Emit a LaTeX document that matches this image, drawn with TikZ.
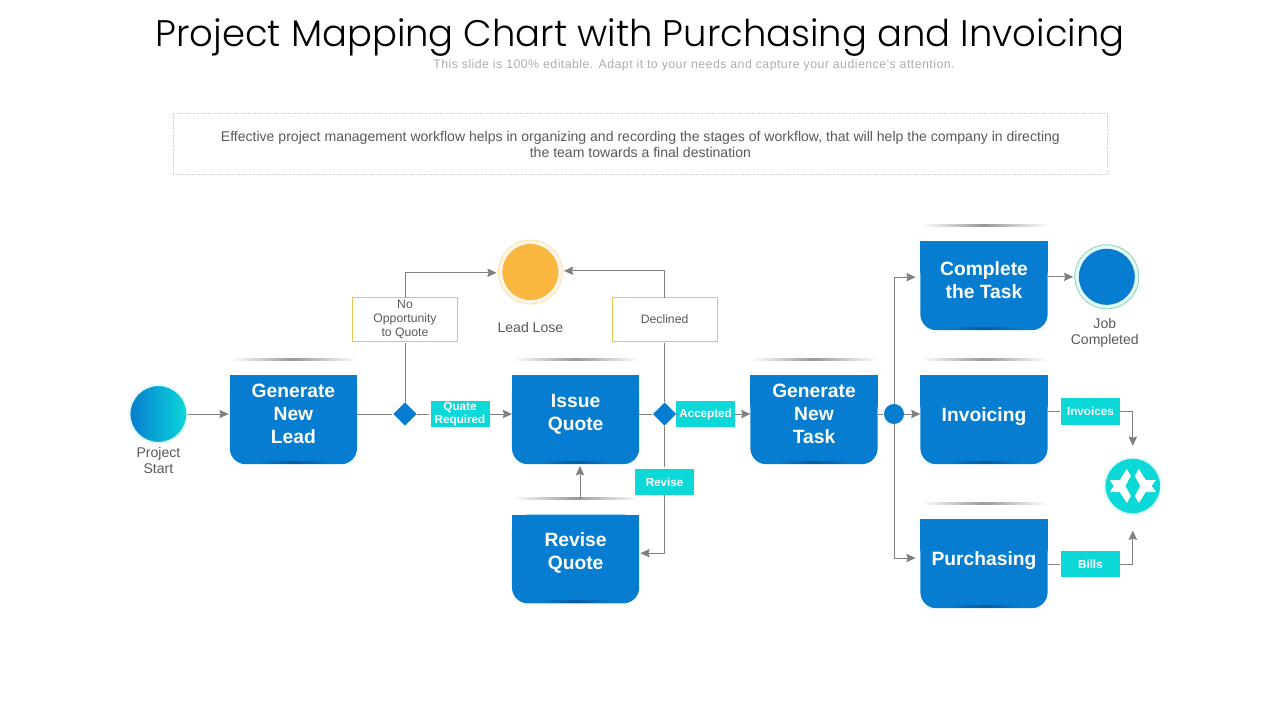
\documentclass[tikz,border=0pt]{standalone}
\usepackage{fontspec}
\setmainfont{Liberation Sans}
\newfontfamily\titlefont{Poppins Light}
\usetikzlibrary{arrows.meta,shapes.geometric,backgrounds}

\definecolor{taskblue}{HTML}{067DD0}
\definecolor{darkblue}{HTML}{0A5A9C}
\definecolor{tagcyan}{HTML}{0CD8D8}
\definecolor{lineyellow}{HTML}{E9C455}
\definecolor{sunorange}{HTML}{F9B73F}
\definecolor{linegray}{HTML}{808080}
\definecolor{textgray}{HTML}{595959}
\definecolor{ringgreen}{HTML}{8FD4B0}

\tikzset{
  taskbox/.style={rectangle, minimum width=3.16cm, minimum height=1.91cm, inner sep=0pt, align=center,
    text=white, font=\fontsize{13.7}{16.3}\selectfont\bfseries},
  tagbox/.style={rectangle, fill=tagcyan, minimum width=1.475cm, minimum height=.66cm, inner sep=0pt, outer sep=0pt, align=center,
    text=white, font=\fontsize{8.3}{9.3}\selectfont\bfseries},
  notebox/.style={rectangle, draw=lineyellow, line width=.7pt, minimum width=2.63cm, minimum height=1.1cm, inner sep=0pt,
    outer sep=0pt, align=center, text=textgray, font=\fontsize{8.7}{10}\selectfont},
  gate/.style={diamond, fill=taskblue, minimum size=.58cm, inner sep=0pt, outer sep=0pt},
  ringnode/.style={circle, minimum size=1.6cm, inner sep=0pt},
  dotnode/.style={circle, minimum size=1.4cm, inner sep=0pt},
  caption/.style={align=center, text=textgray, font=\fontsize{10}{11.4}\selectfont, inner sep=0pt}
}

\begin{document}
\begin{tikzpicture}[->, >={Stealth[length=.23cm,width=.21cm,inset=.3mm]}, shorten >=1pt, line width=.6pt, draw=linegray, node distance=3cm]

  \useasboundingbox (0,0) rectangle (32,-18);

  \node (title) at (16,-.95) {\titlefont\fontsize{26.3}{30}\selectfont Project Mapping Chart with Purchasing and Invoicing};
  \node[text=black!32, font=\fontsize{8.8}{10}\selectfont, inner sep=0pt] (subtitle) at (17.35,-1.62)
    {\addfontfeature{LetterSpace=3.6}This slide is 100\% editable. Adapt it to your needs and capture your audience's attention.};
  \node[rectangle, draw=black!22, densely dotted, line width=.5pt, minimum width=23.35cm, minimum height=1.53cm, align=center,
    text=textgray, font=\fontsize{10}{11.4}\selectfont, inner sep=0pt] (intro) at (16.01,-3.6)
    {Effective project management workflow helps in organizing and recording the stages of workflow, that will help the company in directing\\the team towards a final destination};

  \node[circle, shade, left color=taskblue, right color=tagcyan, draw=tagcyan!12, line width=1.5pt, minimum size=1.45cm, inner sep=0pt] (start) at (3.96,-10.35) {};
  \node[taskbox]  (lead)  [right of=start, node distance=3.375cm] {Generate\\New\\Lead};
  \node[gate]     (gatea) [right of=lead, node distance=2.79cm] {};
  \node[tagbox]   (required) [right of=gatea, node distance=1.375cm] {Quate\\Required};
  \node[taskbox]  (issue) [right of=required, node distance=2.89cm] {Issue\\Quote};
  \node[gate]     (gateb) [right of=issue, node distance=2.225cm] {};
  \node[tagbox]   (accepted) [right of=gateb, node distance=1.025cm] {Accepted};
  \node[taskbox]  (task)  [right of=accepted, node distance=2.71cm] {Generate\\New\\Task};
  \node[circle, fill=taskblue, minimum size=.5cm, inner sep=0pt, outer sep=0pt] (split) [right of=task, node distance=2cm] {};
  \node[taskbox]  (invoicing) [right of=split, node distance=2.25cm] {\raisebox{0pt}[12.6pt][2.6pt]{Invoicing}};
  \node[taskbox]  (complete)  [above of=invoicing, node distance=3.35cm] {Complete\\the Task};
  \node[taskbox]  (purchasing) [below of=invoicing, node distance=3.6cm] {\raisebox{0pt}[12.6pt][2.6pt]{Purchasing}};
  \node[taskbox]  (revise) [below of=issue, node distance=3.48cm] {Revise\\Quote};
  \node[tagbox]   (revisetag) [below of=gateb, node distance=1.7cm] {Revise};
  \node[notebox]  (declined) [above of=gateb, node distance=2.36cm] {Declined};
  \node[notebox]  (noquote)  [above of=gatea, node distance=2.36cm] {No\\Opportunity\\to Quote};
  \node[tagbox]   (invoices) at (27.26,-10.29) {Invoices};
  \node[tagbox]   (bills)    at (27.26,-14.1) {Bills};

  \node[ringnode, draw=sunorange!45, fill=sunorange!12, line width=.6pt] (lose) at (13.26,-6.8) {};
  \node[dotnode, fill=sunorange] (losedot) at (lose) {};
  \node[ringnode, draw=ringgreen, fill=tagcyan!12, line width=.6pt] (done) at (27.67,-6.92) {};
  \node[dotnode, fill=taskblue] (donedot) at (done) {};
  \node[circle, fill=tagcyan, draw=tagcyan!12, line width=1.5pt, minimum size=1.42cm, inner sep=0pt] (hub) at (28.32,-12.15) {};

  \node[caption] (startcap) [below of=start, node distance=1.15cm] {Project\\Start};
  \node[caption] (losecap)  [below of=lose, node distance=1.38cm] {Lead Lose};
  \node[caption] (donecap)  [below of=done, node distance=1.4cm, xshift=-.05cm] {Job\\Completed};

  \foreach \s in {1,-1}
    \fill[white, shift={(hub.center)}, xscale=\s*.025, yscale=.025]
      (-6,17) -- (-13,6) -- (-23,6) -- (-19,0) -- (-23,-6) -- (-13,-6) -- (-6,-17) -- (-2,-10) -- (-7.5,0) -- (-2,10) -- cycle;

  \begin{scope}[on background layer]
    \foreach \boxname in {lead,issue,revise,task,complete,invoicing,purchasing} {
      \fill[taskblue, rounded corners=.4cm] (\boxname.north west) rectangle ([yshift=-.29cm]\boxname.south east);
      \fill[taskblue] (\boxname.north west) rectangle ([yshift=-.8cm]\boxname.north east);
      \shade[left color=taskblue, right color=taskblue, middle color=darkblue]
        ([xshift=.7cm,yshift=-.27cm]\boxname.south west) rectangle ([xshift=-.7cm,yshift=-.22cm]\boxname.south east);
      \shade[left color=white, right color=white, middle color=black!40]
        ([yshift=.38cm]\boxname.north west) rectangle ([yshift=.42cm]\boxname.north east);
    }
  \end{scope}

  \path (start) edge [shorten >=.03cm] (lead)
        (lead) edge [-] (gatea)
        (gatea) edge [-] (required)
        (required) edge [shorten >=0pt] (issue)
        (issue) edge [-] (gateb)
        (gateb) edge [-] (accepted)
        (accepted) edge [shorten >=0pt] (task)
        (task) edge [-] (split)
        (split) edge [shorten >=0pt] (invoicing)
        (gatea) edge [-] (noquote)
        (gateb) edge [-] (declined)
        (gateb) edge [-] (revisetag)
        (invoices -| invoicing.east) edge [-] (invoices)
        (bills -| purchasing.east) edge [-] (bills)
        (complete.east |- done) edge [shorten >=.03cm] (done)
        ([xshift=.11cm,yshift=.4cm]revise.north) edge ([xshift=.11cm,yshift=-.3cm]issue.south);

  \draw (noquote) |- ([yshift=-.02cm]lose.west);
  \draw[shorten >=.03cm] (declined) |- ([yshift=.03cm]lose.east);
  \draw[shorten >=.03cm] (revisetag) |- (revise);
  \draw[shorten >=.12cm] (split) |- ([yshift=.07cm]complete.west);
  \draw[shorten >=.12cm] (split) |- (purchasing);
  \draw[shorten >=.27cm] (invoices) -| (hub);
  \draw[shorten >=.38cm] (bills) -| (hub);

\end{tikzpicture}
\end{document}
